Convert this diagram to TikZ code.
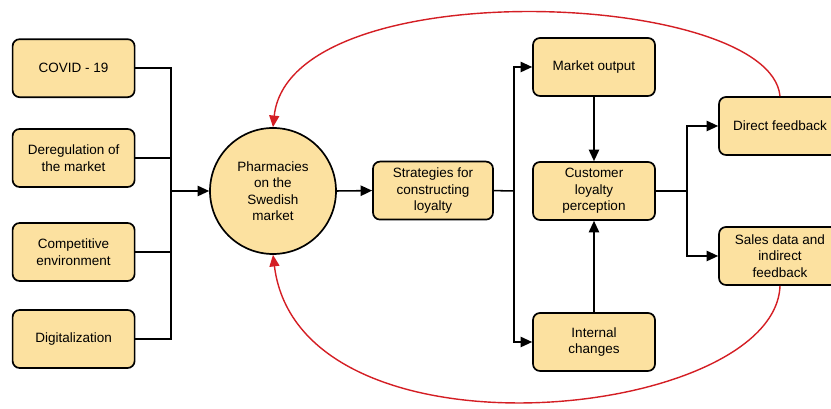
\documentclass[tikz,border=0pt]{standalone}
\usepackage{fontspec}
\setmainfont{Liberation Sans}
\usepackage{xcolor}
\usetikzlibrary{arrows.meta, positioning}
\definecolor{boxfill}{RGB}{252,225,160}
\definecolor{loopred}{RGB}{212,30,36}

\tikzset{
  factor/.style={draw, line width=1.2pt, fill=boxfill, rounded corners=5pt,
    minimum width=3.05cm, minimum height=1.45cm, align=center,
    font=\fontsize{9.6}{11.7}\selectfont},
  hub/.style={draw, line width=1.2pt, fill=boxfill, circle, minimum size=3.15cm,
    align=center, font=\fontsize{9.6}{11.7}\selectfont},
  link/.style={line width=1.1pt},
  flow/.style={line width=1.1pt, -{Triangle[length=2.9mm, width=2.6mm]}},
  feedback/.style={loopred, line width=1pt, -{Triangle[length=2.9mm, width=2.5mm]}}
}

\begin{document}
\begin{tikzpicture}
\useasboundingbox (0,0) rectangle (20.775,10.225);

% Driving factors
\node[factor] (covid) at (1.84, 8.52) {COVID - 19};
\node[factor] (dereg) at (1.84, 6.275) {Deregulation of\\the market};
\node[factor] (compet) at (1.84, 3.925) {Competitive\\environment};
\node[factor] (digital) at (1.84, 1.75) {Digitalization};

% Core of the model
\node[hub] (pharm) at (6.825, 5.45) {Pharmacies\\on the\\Swedish\\market};
\node[factor, minimum width=3.0cm] (strat) at (10.825, 5.46) {Strategies for\\constructing\\loyalty};
\node[factor] (market) at (14.85, 8.55) {Market output};
\node[factor] (custloy) at (14.85, 5.45) {Customer\\loyalty\\perception};
\node[factor] (internal) at (14.85, 1.675) {Internal\\changes};
\node[factor] (direct) at (19.5, 7.075) {Direct feedback};
\node[factor] (sales) at (19.5, 3.825) {Sales data and\\indirect\\feedback};

% Bus points
\coordinate (lbus) at (4.275, 5.45);
\coordinate (mbus) at (12.85, 5.45);
\coordinate (rbus) at (17.175, 5.45);

% Factors into the market
\draw[link] (covid.east) -| (lbus);
\draw[link] (dereg.east) -| (lbus);
\draw[link] (compet.east) -| (lbus);
\draw[link] (digital.east) -| (lbus);
\draw[flow] (lbus) -- (pharm.west);
\draw[flow] (pharm.east) -- (strat.west);

% Strategies
\draw[link] (strat.east) -- (mbus);
\draw[flow] (mbus) |- (market.west);
\draw[flow] (mbus) |- (internal.west);
\draw[flow] (market.south) -- (custloy.north);
\draw[flow] (internal.north) -- (custloy.south);

% Feedback
\draw[link] (custloy.east) -- (rbus);
\draw[flow] (rbus) |- (direct.west);
\draw[flow] (rbus) |- (sales.west);

% Loops back to the market
\draw[feedback] (direct.north) .. controls (19.25, 10.475) and (7.25, 10.975) .. (pharm.north);
\draw[feedback] (sales.south) .. controls (19.375, -0.275) and (7.5, -1.525) .. (pharm.south);
\end{tikzpicture}
\end{document}
